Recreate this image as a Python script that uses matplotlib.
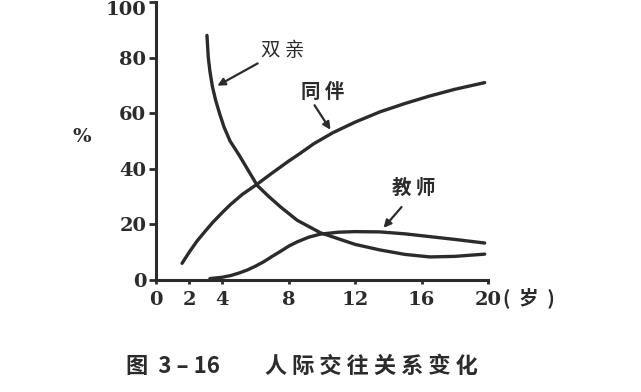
import matplotlib.pyplot as plt
from matplotlib.transforms import ScaledTranslation

plt.rcParams['font.family'] = ['Noto Sans CJK SC', 'DejaVu Sans']

# values (age in years, percent)
age_parents = [3.07, 3.15, 3.25, 3.4, 3.6, 3.85, 4.1, 4.46, 5.0, 5.5, 6.1, 6.8,
               7.5, 8.5, 9.9, 11.0, 12.0, 13.5, 15.0, 16.5, 18.0, 19.8]
pct_parents = [88, 80, 75, 69.5, 64.5, 59.5, 55, 50, 45, 40, 34, 30,
               26.3, 21.5, 17, 14.8, 12.8, 10.8, 9.2, 8.3, 8.5, 9.3]

age_peers = [1.57, 2.0, 2.47, 3.0, 3.43, 4.0, 4.46, 5.2, 6.1, 7.0, 8.0, 8.67,
             9.5, 10.66, 12.0, 13.5, 15.0, 16.5, 18.0, 19.8]
pct_peers = [6, 10, 14, 17.8, 20.8, 24.3, 27, 30.8, 34.5, 38.5, 42.8, 45.5,
             49, 53, 56.8, 60.5, 63.5, 66.2, 68.6, 71]

age_teacher = [3.25, 4.0, 4.5, 5.0, 5.5, 6.0, 6.5, 7.0, 7.5, 8.0, 8.5, 9.2,
               9.9, 11.0, 12.0, 13.5, 15.0, 16.5, 18.0, 19.8]
pct_teacher = [0.5, 1.0, 1.6, 2.5, 3.6, 5.0, 6.6, 8.5, 10.3, 12.2, 13.7, 15.4,
               16.5, 17.2, 17.4, 17.3, 16.6, 15.6, 14.6, 13.3]

xticks = [0, 2, 4, 8, 12, 16, 20]
yticks = [0, 20, 40, 60, 80, 100]

ink = "#2b2b2b"
W, H = 641, 392
cjk = ["Noto Sans CJK SC", "DejaVu Sans"]

fig = plt.figure(figsize=(W / 100, H / 100), dpi=100)
ax = fig.add_axes([156 / W, 1 - 280 / H, 332 / W, 278 / H])

for xs, ys in [(age_parents, pct_parents), (age_peers, pct_peers),
               (age_teacher, pct_teacher)]:
    ax.plot(xs, ys, color=ink, lw=2.4, solid_capstyle="round",
            solid_joinstyle="round")

ax.set_xlim(0, 20)
ax.set_ylim(0, 100)
for s in ["top", "right"]:
    ax.spines[s].set_visible(False)
for s in ["left", "bottom"]:
    ax.spines[s].set_color(ink)
    ax.spines[s].set_linewidth(2.2)

ax.set_xticks(xticks)
ax.set_yticks(yticks)
ax.tick_params(colors=ink, width=2, length=5)
ax.tick_params(axis="x", length=3, pad=5)
ax.tick_params(axis="y", pad=2)
for lab in ax.get_xticklabels() + ax.get_yticklabels():
    lab.set_family("DejaVu Serif")
    lab.set_fontweight("bold")
    lab.set_fontsize(14)
    lab.set_color(ink)
# top label sits right at the edge in the scan; nudge it so it stays visible
top = ax.get_yticklabels()[-1]
top.set_transform(top.get_transform() + ScaledTranslation(0, -6 / 100, fig.dpi_scale_trans))

fig.text(82 / W, 1 - 137 / H, "%", family="DejaVu Serif", fontweight="bold",
         fontsize=14, color=ink, ha="center", va="center")
fig.text(503 / W, 1 - 298 / H, "(  岁  )", family=cjk,
         fontweight="bold", fontsize=14, color=ink, ha="left", va="center")

# curve labels with arrows
arrow = dict(arrowstyle="-|>", color=ink, lw=1.6, mutation_scale=11)
ax.text(7.65, 82.7, "双 亲", fontsize=14, color=ink, ha="center", va="center",
        fontweight="medium")
ax.annotate("", xy=(3.55, 69.4), xytext=(6.27, 78.4), arrowprops=arrow)
ax.text(10.06, 67.6, "同 伴", fontsize=14, color=ink, ha="center", va="center",
        fontweight="bold")
ax.annotate("", xy=(10.6, 53.2), xytext=(9.46, 63.7), arrowprops=arrow)
ax.text(15.5, 33.1, "教 师", fontsize=14, color=ink, ha="center", va="center",
        fontweight="bold")
ax.annotate("", xy=(13.6, 18), xytext=(14.9, 27), arrowprops=arrow)

fig.text(302 / W, 1 - 366 / H, "图  3 – 16         人 际 交 往 关 系 变 化", fontsize=16,
         fontweight="bold", color=ink, ha="center", va="center", family=cjk)

fig.savefig("out.png", dpi=100)
